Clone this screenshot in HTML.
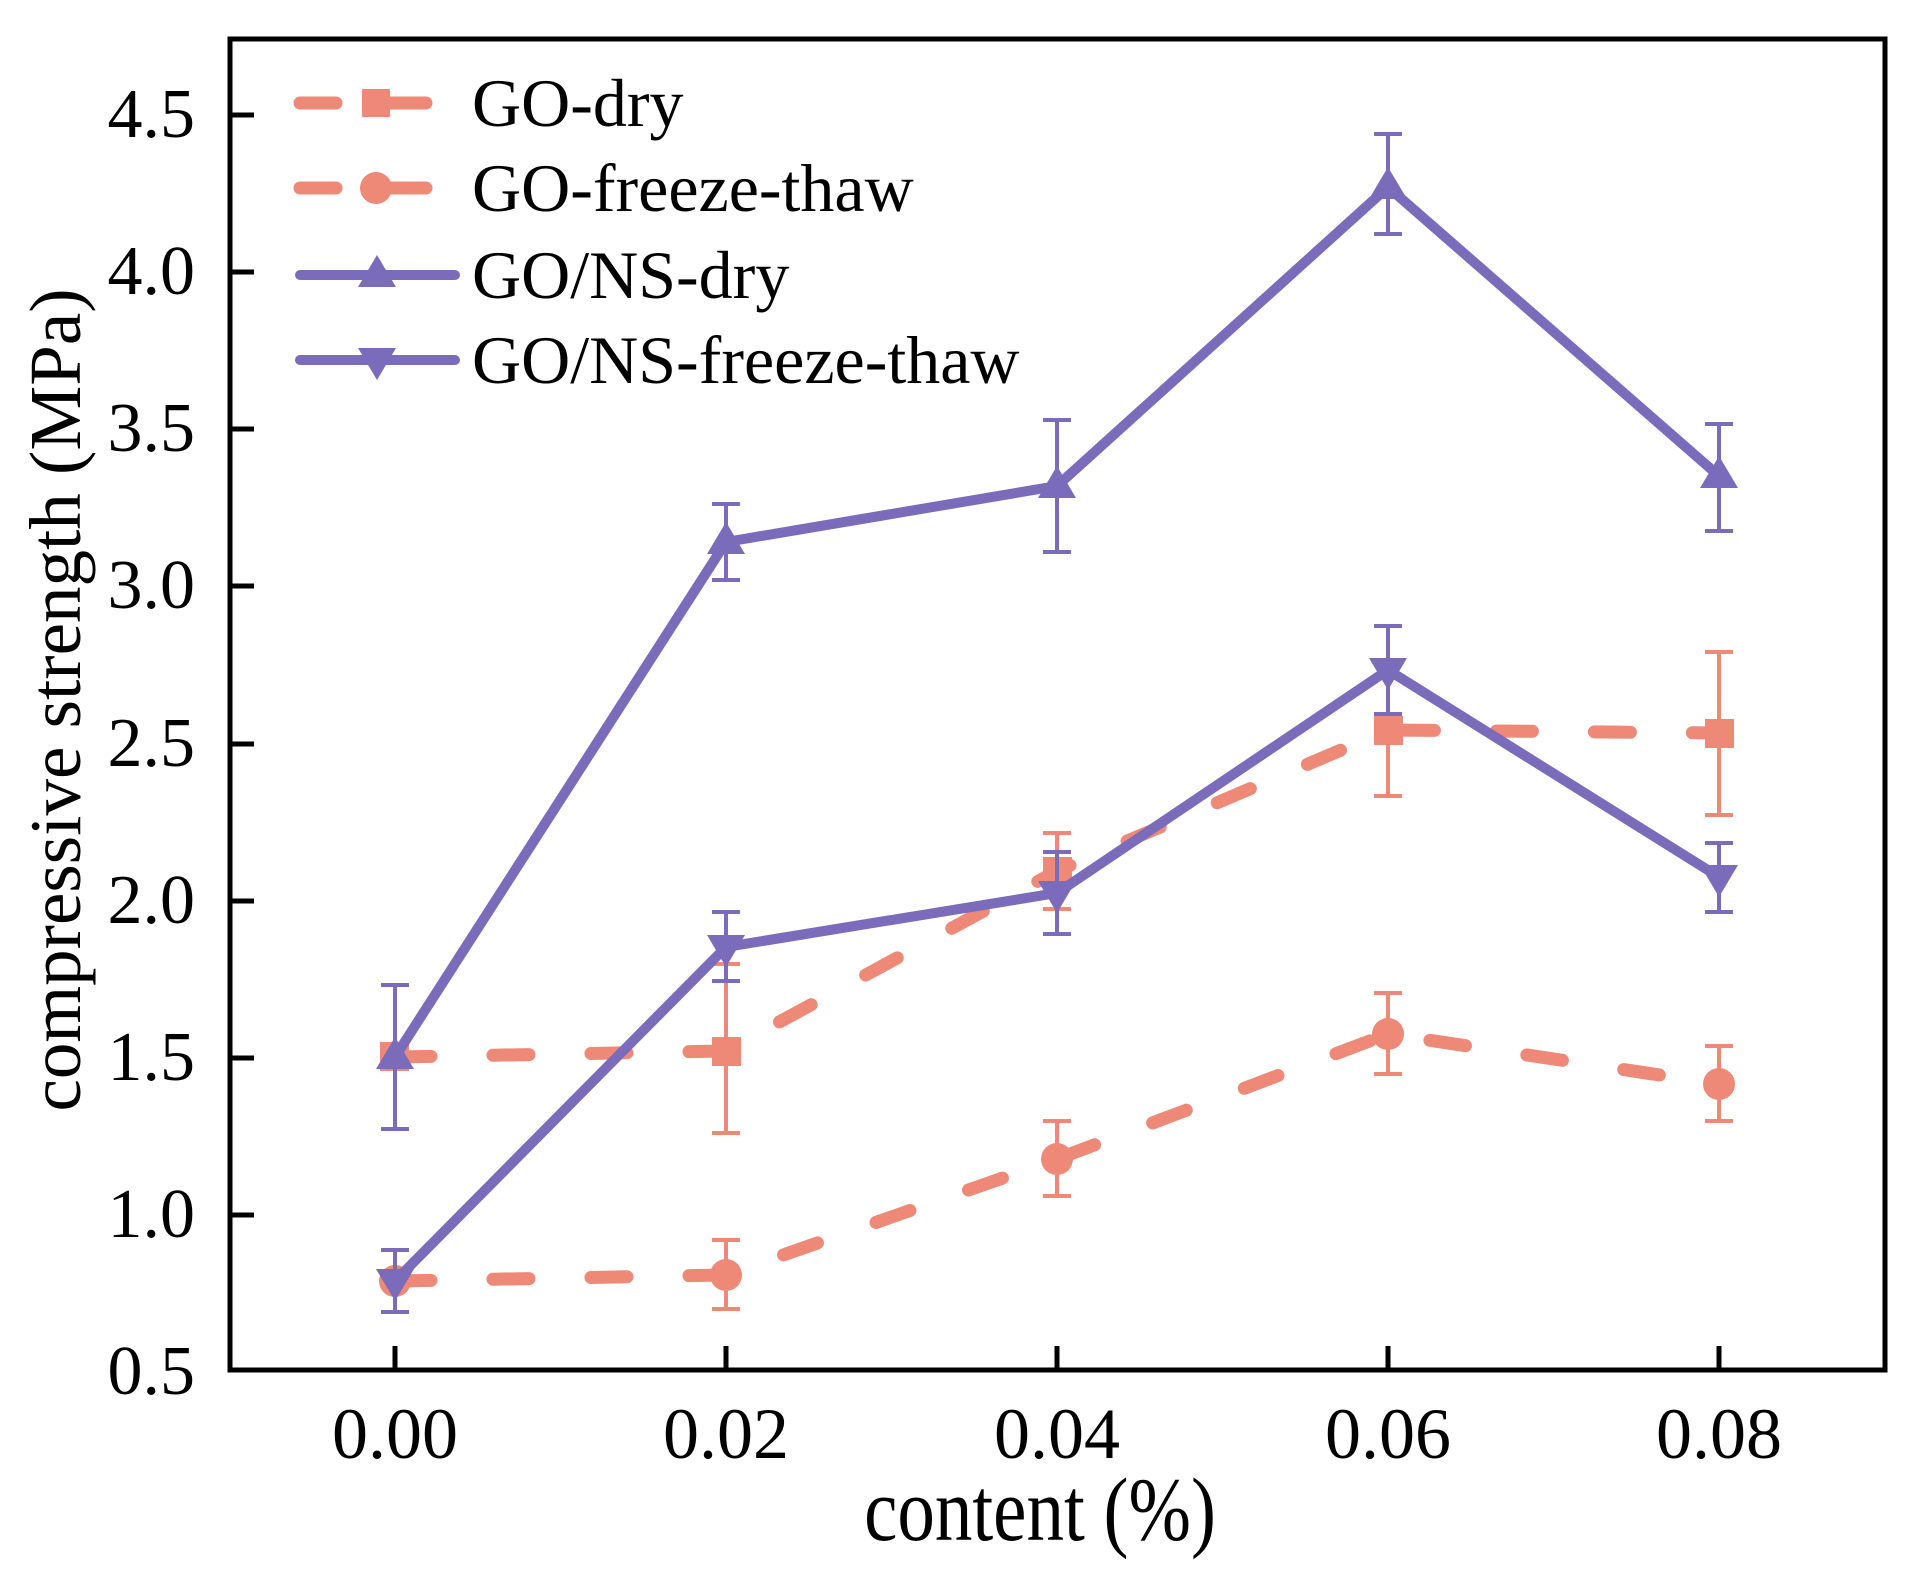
<!DOCTYPE html>
<html><head><meta charset="utf-8"><style>html,body{margin:0;padding:0;background:#fff}svg{display:block}</style></head>
<body>
<svg width="1931" height="1590" viewBox="0 0 1931 1590" xmlns="http://www.w3.org/2000/svg" font-family="'Liberation Serif', serif">
<rect width="1931" height="1590" fill="#fff"/>
<g fill="none" stroke-linecap="round" stroke-linejoin="round">
 <polyline points="395,1057 726,1051 1057,871 1388,730 1719,733" stroke="#EE8877" stroke-width="13" stroke-dasharray="36 62"/>
 <polyline points="395,1281 726,1275 1057,1159 1388,1034 1719,1084" stroke="#EE8877" stroke-width="13" stroke-dasharray="36 62"/>
</g>
<g stroke="#EE8877" stroke-width="4" fill="none">
 <path d="M726,964V1133M712,964H740M712,1133H740"/>
 <path d="M1057,833V909M1043,833H1071M1043,909H1071"/>
 <path d="M1388,664V796M1374,664H1402M1374,796H1402"/>
 <path d="M1719,652V815M1705,652H1733M1705,815H1733"/>
 <path d="M395,1250V1312M381,1250H409M381,1312H409"/>
 <path d="M726,1240V1309M712,1240H740M712,1309H740"/>
 <path d="M1057,1121V1196M1043,1121H1071M1043,1196H1071"/>
 <path d="M1388,993V1074M1374,993H1402M1374,1074H1402"/>
 <path d="M1719,1046V1121M1705,1046H1733M1705,1121H1733"/>
</g>
<g fill="#EE8877">
 <rect x="380" y="1042" width="29" height="29"/><rect x="712" y="1037" width="29" height="29"/>
 <rect x="1043" y="857" width="29" height="29"/><rect x="1374" y="716" width="29" height="29"/><rect x="1705" y="719" width="29" height="29"/>
 <circle cx="395" cy="1281" r="16"/><circle cx="726" cy="1275" r="16"/><circle cx="1057" cy="1159" r="16"/><circle cx="1388" cy="1034" r="16"/><circle cx="1719" cy="1084" r="16"/>
</g>
<g fill="none" stroke="#7A6BBB" stroke-linejoin="round">
 <polyline points="395,1057 726,542 1057,486 1388,187 1719,476" stroke-width="10"/>
 <polyline points="395,1281 726,947 1057,893 1388,670 1719,877" stroke-width="10"/>
</g>
<g stroke="#7A6BBB" stroke-width="4" fill="none">
 <path d="M395,985V1129M381,985H409M381,1129H409"/>
 <path d="M726,504V580M712,504H740M712,580H740"/>
 <path d="M1057,420V552M1043,420H1071M1043,552H1071"/>
 <path d="M1388,134V234M1374,134H1402M1374,234H1402"/>
 <path d="M1719,424V531M1705,424H1733M1705,531H1733"/>
 <path d="M395,1250V1312M381,1250H409M381,1312H409"/>
 <path d="M726,912V981M712,912H740M712,981H740"/>
 <path d="M1057,852V934M1043,852H1071M1043,934H1071"/>
 <path d="M1388,626V714M1374,626H1402M1374,714H1402"/>
 <path d="M1719,843V912M1705,843H1733M1705,912H1733"/>
</g>
<g fill="#7A6BBB">
 <path d="M395,1037l19,32h-38z"/><path d="M726,522l19,32h-38z"/><path d="M1057,466l19,32h-38z"/><path d="M1388,167l19,32h-38z"/><path d="M1719,456l19,32h-38z"/>
 <path d="M395,1301l19,-32h-38z"/><path d="M726,967l19,-32h-38z"/><path d="M1057,913l19,-32h-38z"/><path d="M1388,690l19,-32h-38z"/><path d="M1719,897l19,-32h-38z"/>
</g>
<rect x="230" y="39" width="1655" height="1331" fill="none" stroke="#000" stroke-width="5"/>
<g stroke="#000" stroke-width="5">
 <path d="M230,115h24M230,272h24M230,429h24M230,586h24M230,744h24M230,901h24M230,1058h24M230,1215h24"/>
 <path d="M395,1370v-24M726,1370v-24M1057,1370v-24M1388,1370v-24M1719,1370v-24"/>
</g>
<g font-size="70" text-anchor="end" fill="#000">
 <text x="195" y="137">4.5</text><text x="195" y="294">4.0</text><text x="195" y="451">3.5</text><text x="195" y="608">3.0</text>
 <text x="195" y="766">2.5</text><text x="195" y="923">2.0</text><text x="195" y="1080">1.5</text><text x="195" y="1237">1.0</text><text x="195" y="1394">0.5</text>
</g>
<g font-size="72" text-anchor="middle" fill="#000">
 <text x="395" y="1458">0.00</text><text x="726" y="1458">0.02</text><text x="1057" y="1458">0.04</text><text x="1388" y="1458">0.06</text><text x="1719" y="1458">0.08</text>
 <text transform="translate(1040,1540) scale(1,1.2)" font-size="75">content (%)</text>
 <text transform="translate(80,700) rotate(-90)" font-size="73">compressive strength (MPa)</text>
</g>
<g fill="none" stroke-linecap="round">
 <path d="M300,103H442" stroke="#EE8877" stroke-width="13" stroke-dasharray="36 54"/>
 <path d="M300,188H442" stroke="#EE8877" stroke-width="13" stroke-dasharray="36 54"/>
 <path d="M300,275H455" stroke="#7A6BBB" stroke-width="10"/>
 <path d="M300,360H455" stroke="#7A6BBB" stroke-width="10"/>
</g>
<rect x="362" y="89" width="28" height="28" fill="#EE8877"/>
<circle cx="376" cy="188" r="16" fill="#EE8877"/>
<path d="M377,255l19,32h-38z" fill="#7A6BBB"/>
<path d="M377,380l19,-32h-38z" fill="#7A6BBB"/>
<g font-size="68" fill="#000">
 <text x="472" y="126">GO-dry</text><text x="472" y="211">GO-freeze-thaw</text>
 <text x="472" y="298">GO/NS-dry</text><text x="472" y="383">GO/NS-freeze-thaw</text>
</g>
</svg>
</body></html>
